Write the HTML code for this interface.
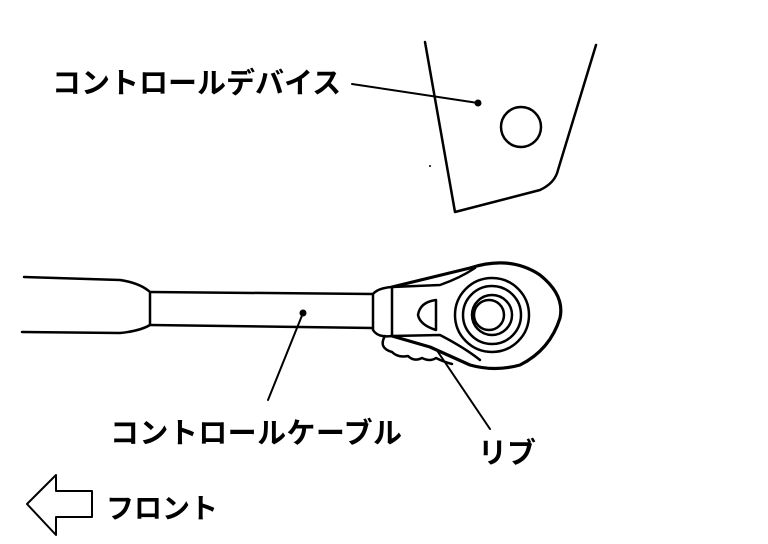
<!DOCTYPE html>
<html><head><meta charset="utf-8"><style>
html,body{margin:0;padding:0;background:#fff;}
svg{display:block}
text{font-family:"Liberation Sans","Noto Sans CJK JP",sans-serif;font-weight:bold;fill:#000;}
</style></head><body>
<svg width="768" height="544" viewBox="0 0 768 544" xmlns="http://www.w3.org/2000/svg">
<g fill="none" stroke="#000" stroke-width="2.5" stroke-linecap="round" stroke-linejoin="round">
<path d="M425 42 L455 212 L540 190 Q555 183 558 170 L596 45"/>
<circle cx="521" cy="127" r="20"/>
<line x1="352" y1="84" x2="478" y2="103" stroke-width="2"/>
<path d="M24 277 L120 280 Q140 283 150 292 L150 325 Q140 331 120 333 L22 332"/>
<path d="M150 292 L373 294 M150 325 L373 328"/>
<path d="M373 294 Q378 288 392 287 L392 336 Q378 338 373 330 Z"/>
<path d="M392 287 L470 268 Q510 255 540 275 Q565 295 560 318 Q550 350 520 365 Q495 372 470 365 L430 347 L392 336" stroke-width="3.2"/>
<path d="M392 287 L440 285 Q460 278 475 268"/>
<path d="M392 336 L440 335 Q465 348 480 360"/>
<path d="M436 300 Q420 302 418 315 Q420 325 436 330 Z"/>
<path d="M385 336 Q378 348 392 352 Q398 358 408 356 Q414 362 422 358 Q430 362 436 358 Q444 362 452 364"/>
<circle cx="492" cy="315" r="37"/>
<circle cx="492" cy="315" r="29"/>
<circle cx="492" cy="315" r="20"/>
<circle cx="489" cy="315" r="15"/>
<line x1="303" y1="313" x2="268" y2="400" stroke-width="2"/>
<line x1="438" y1="352" x2="490" y2="429" stroke-width="2"/>
<path d="M27 504 L56 475 L56 491 L92 491 L92 517 L56 517 L56 535 Z" stroke-width="2"/>
</g>
<circle cx="478" cy="103" r="3.5"/>
<circle cx="303" cy="313" r="3.5"/>
<circle cx="430" cy="166" r="1"/>
<text x="52" y="93" font-size="29">コントロールデバイス</text>
<text x="110" y="443" font-size="29" textLength="292" lengthAdjust="spacing">コントロールケーブル</text>
<text x="478" y="463" font-size="29">リブ</text>
<text x="106" y="518" font-size="28">フロント</text>
</svg>
</body></html>
